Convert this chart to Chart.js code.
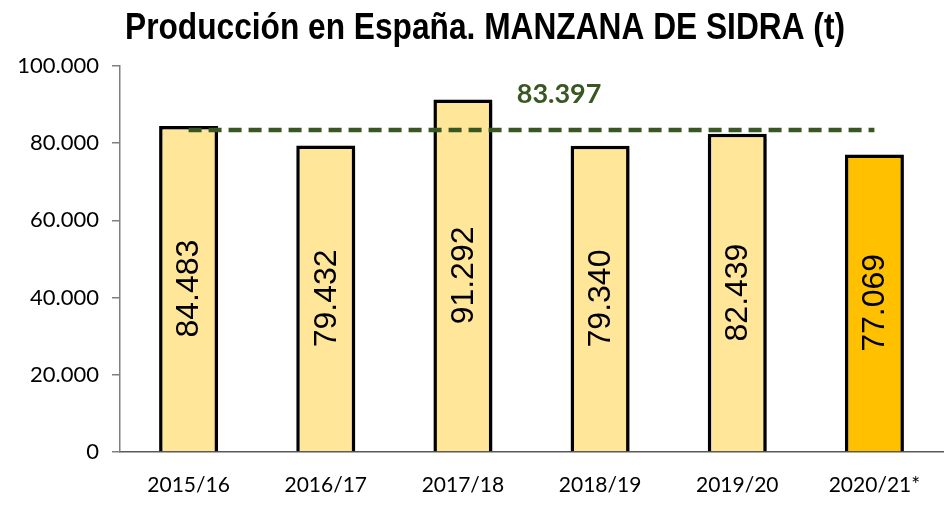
<!DOCTYPE html>
<html>
<head>
<meta charset="utf-8">
<script src="https://cdn.jsdelivr.net/npm/chart.js@4/dist/chart.umd.min.js"></script>
<style>
html,body{margin:0;padding:0;background:#fff;}
#wrap{width:948px;height:506px;position:relative;}
</style>
</head>
<body>
<div id="wrap"><canvas id="c" width="948" height="506"></canvas></div>
<script>
const titleText = 'Producción en España. MANZANA DE SIDRA (t)';
const categories = ['2015/16','2016/17','2017/18','2018/19','2019/20','2020/21*'];
const production = [84483, 79432, 91292, 79340, 82439, 77069];
const averageValue = 83397;
const averageLine = categories.map(() => averageValue);
const barColors = ['#FFE699','#FFE699','#FFE699','#FFE699','#FFE699','#FFC000'];
const yTicks = [0, 20000, 40000, 60000, 80000, 100000];

function fmt(v){
  const s = Math.round(v).toString();
  return s.replace(/\B(?=(\d{3})+(?!\d))/g, '.');
}

const titlePlugin = {
  id: 'titleDraw',
  afterDraw(chart){
    const ctx = chart.ctx;
    ctx.save();
    ctx.font = 'bold 36px "Liberation Sans Narrow", "Liberation Sans"';
    ctx.fillStyle = '#000';
    ctx.textAlign = 'center';
    ctx.textBaseline = 'alphabetic';
    const w = ctx.measureText(titleText).width;
    const sx = 720 / w;
    ctx.translate(485, 39);
    ctx.scale(sx, 1);
    ctx.fillText(titleText, 0, 0);
    ctx.restore();
  }
};

const shadowPlugin = {
  id: 'barShadow',
  beforeDatasetDraw(chart, args){
    if (args.index !== 0) return;
    const ctx = chart.ctx;
    ctx.save();
    ctx.shadowColor = 'rgba(0,0,0,0.35)';
    ctx.shadowBlur = 5;
    ctx.shadowOffsetX = 3;
    ctx.shadowOffsetY = 3;
  },
  afterDatasetDraw(chart, args){
    if (args.index !== 0) return;
    chart.ctx.restore();
  }
};

const labelPlugin = {
  id: 'barLabels',
  afterDatasetsDraw(chart){
    const ctx = chart.ctx;
    const meta = chart.getDatasetMeta(0);
    ctx.save();
    ctx.font = '32px "Liberation Sans", Arial';
    ctx.fillStyle = '#000';
    ctx.textAlign = 'center';
    ctx.textBaseline = 'middle';
    meta.data.forEach((el, i) => {
      const cy = (el.y + el.base) / 2;
      ctx.save();
      ctx.translate(el.x + 1, cy);
      ctx.rotate(-Math.PI / 2);
      ctx.fillText(fmt(production[i]), 0, 0);
      ctx.restore();
    });
    // average label
    const ys = chart.scales.y;
    const xs = chart.scales.x;
    const xm = xs.getPixelForValue(3) - 41;
    ctx.font = 'bold 27px Lato, "Open Sans"';
    ctx.fillStyle = '#385723';
    ctx.textBaseline = 'alphabetic';
    ctx.fillText(fmt(averageValue), xm, ys.getPixelForValue(averageValue) - 27);
    ctx.restore();
  }
};

new Chart(document.getElementById('c'), {
  data: {
    labels: categories,
    datasets: [
      {
        type: 'bar',
        data: production,
        backgroundColor: barColors,
        borderColor: '#000',
        borderWidth: 3.5,
        barPercentage: 0.43,
        categoryPercentage: 1,
        order: 2
      },
      {
        type: 'line',
        data: averageLine,
        borderColor: '#385723',
        borderWidth: 4.5,
        borderDash: [13, 7],
        pointRadius: 0,
        fill: false,
        order: 1
      }
    ]
  },
  plugins: [shadowPlugin, labelPlugin, titlePlugin],
  options: {
    responsive: false,
    animation: false,
    devicePixelRatio: 1,
    layout: { padding: { top: 66, left: 0, right: 5, bottom: 0 } },
    plugins: { legend: { display: false }, tooltip: { enabled: false }, title: { display: false } },
    scales: {
      x: {
        afterFit(s){ s.height = 54; },
        grid: { display: true, drawOnChartArea: false, drawTicks: false, color: '#7f7f7f' },
        border: { display: true, color: '#595959', width: 1.5 },
        ticks: { padding: 21, color: '#000', font: { family: 'Lato, "Open Sans"', size: 21 } }
      },
      y: {
        min: 0, max: 100000,
        afterFit(s){ s.width = 120; },
        afterBuildTicks(s){ s.ticks = yTicks.map(v => ({ value: v })); },
        grid: { drawOnChartArea: false, drawTicks: true, tickLength: 8, color: '#7f7f7f', lineWidth: 1.5 },
        border: { display: true, color: '#7f7f7f', width: 1.5 },
        ticks: { padding: 13, color: '#000', font: { family: 'Lato, "Open Sans"', size: 22 }, callback: v => fmt(v) }
      }
    }
  }
});
</script>
</body>
</html>
